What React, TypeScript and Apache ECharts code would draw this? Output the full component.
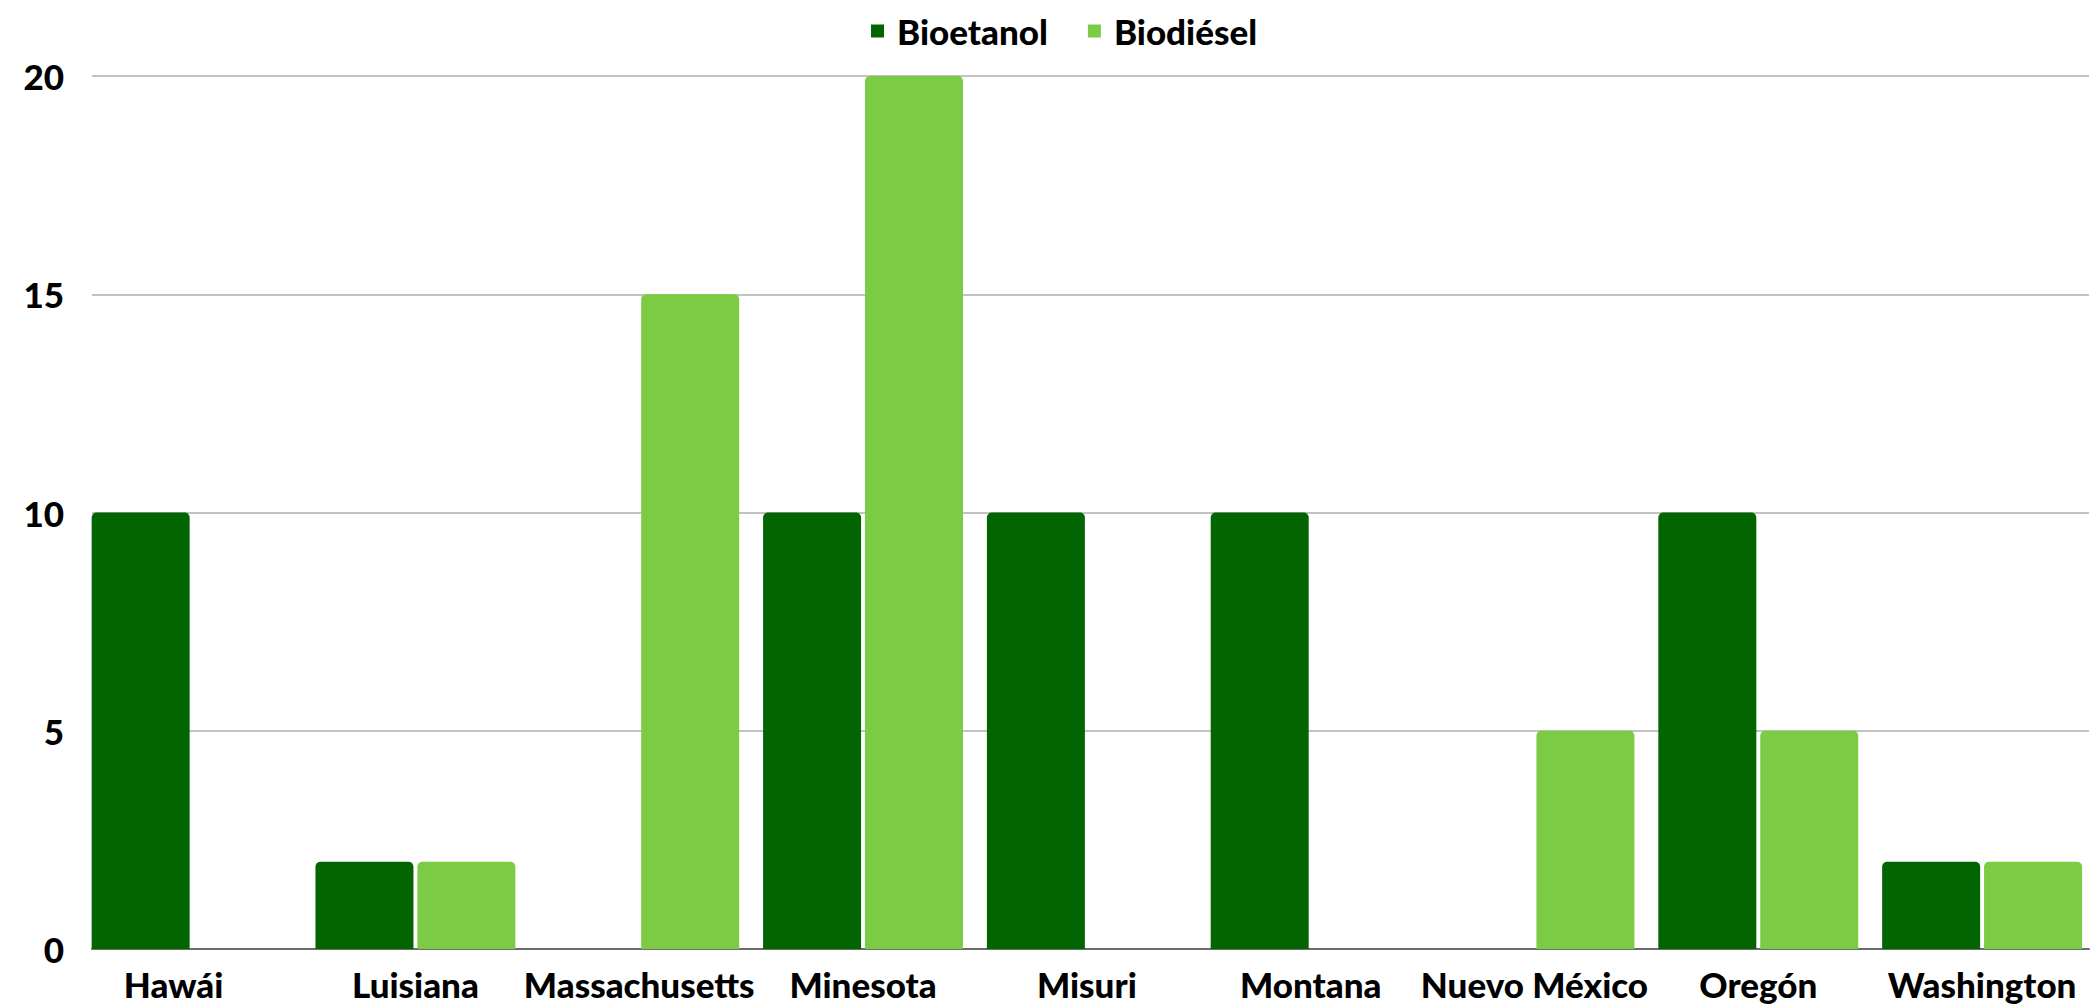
import React, { useEffect, useRef } from "react";
import * as echarts from "echarts";

const categories = ["Hawái", "Luisiana", "Massachusetts", "Minesota", "Misuri", "Montana", "Nuevo México", "Oregón", "Washington"];
const bioetanol = [10, 2, 0, 10, 10, 10, 0, 10, 2];
const biodiesel = [0, 2, 15, 20, 0, 0, 5, 5, 2];
const seriesNames = ["Bioetanol", "Biodiésel"];
const yTicks = { min: 0, max: 20, interval: 5 };

const DARK = "#026502";
const LIGHT = "#7bcc44";
const FONT = "Lato";

export default function App() {
  const ref = useRef<HTMLDivElement>(null);
  useEffect(() => {
    if (!ref.current) return;
    const chart = echarts.init(ref.current, undefined, { renderer: "svg" });
    const textBase = { fontFamily: FONT, fontWeight: 900 as any, fontSize: 35, color: "#000" };
    chart.setOption({
      animation: false,
      backgroundColor: "#fff",
      legend: {
        data: seriesNames,
        left: 866,
        top: 8,
        itemWidth: 13,
        itemHeight: 13,
        itemGap: 40,
        icon: "rect",
        textStyle: { ...textBase, lineHeight: 36, padding: [0, 0, 0, 8] },
      },
      grid: [
        { left: 79.7, right: -5.7, top: 76, bottom: 56 },
        { left: 92, right: 5, top: 76, bottom: 56 },
      ],
      xAxis: [
        {
          type: "category",
          gridIndex: 0,
          data: categories.map((c, i) =>
            i === 0 ? { value: c, textStyle: { padding: [0, 36, 0, 0] } } : c
          ),
          axisLine: { show: false },
          axisTick: { show: false },
          axisLabel: { ...textBase, lineHeight: 36, margin: 17, interval: 0 },
        },
        {
          type: "category",
          gridIndex: 1,
          data: categories,
          axisLine: { show: true, lineStyle: { color: "#6b6b6b", width: 2 } },
          axisTick: { show: false },
          axisLabel: { show: false },
        },
      ],
      yAxis: [
        {
          type: "value",
          gridIndex: 0,
          min: yTicks.min,
          max: yTicks.max,
          interval: yTicks.interval,
          axisLine: { show: false },
          axisTick: { show: false },
          axisLabel: { show: false },
          splitLine: { show: false },
        },
        {
          type: "value",
          gridIndex: 1,
          min: yTicks.min,
          max: yTicks.max,
          interval: yTicks.interval,
          axisLine: { show: false },
          axisTick: { show: false },
          axisLabel: { ...textBase, margin: 28 },
          splitLine: { show: true, lineStyle: { color: "#c2c2c2", width: 2 } },
        },
      ],
      series: [
        {
          name: seriesNames[0],
          type: "bar",
          xAxisIndex: 0,
          yAxisIndex: 0,
          data: bioetanol,
          barWidth: 98,
          barGap: "4%",
          itemStyle: { color: DARK, borderRadius: [5, 5, 0, 0] },
        },
        {
          name: seriesNames[1],
          type: "bar",
          xAxisIndex: 0,
          yAxisIndex: 0,
          data: biodiesel,
          barWidth: 98,
          barGap: "4%",
          itemStyle: { color: LIGHT, borderRadius: [5, 5, 0, 0] },
        },
      ],
    });
    return () => chart.dispose();
  }, []);
  return (
    <div
      ref={ref}
      style={{ position: "absolute", left: 0, top: 0, width: 2094, height: 1005 }}
    />
  );
}
